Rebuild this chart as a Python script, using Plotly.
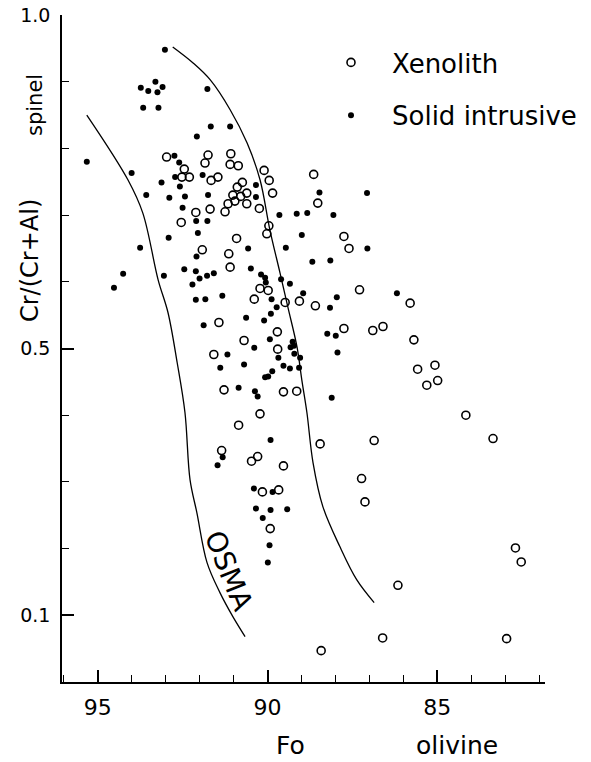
import plotly.graph_objects as go
import numpy as np

# Solid intrusive (filled dots): Fo (olivine), Cr/(Cr+Al) (spinel)
solid_fo = [93.02, 93.73, 93.51, 93.30, 93.24, 93.09, 93.66, 93.21, 92.08, 95.32,
            94.00, 93.12, 92.74, 92.60, 92.72, 92.58, 93.57, 92.89, 92.43, 91.77,
            91.67, 91.10, 91.91, 91.75, 90.34, 90.34, 88.47, 87.07, 92.50, 92.10,
            91.77, 92.05, 92.91, 93.75, 92.09, 94.25, 94.52, 93.05, 92.45, 92.11,
            92.00, 91.78, 91.58, 92.21, 92.11, 91.83, 91.33, 91.88, 91.18, 91.39,
            89.65, 89.14, 88.83, 88.06, 88.99, 89.46, 90.57, 88.68, 88.15, 87.06,
            90.49, 90.19, 90.07, 90.05, 89.60, 89.34, 89.88, 89.73, 88.95, 87.96,
            88.16, 86.19, 89.90, 90.63, 90.10, 88.24, 87.99, 89.93, 90.39, 89.26,
            89.22, 89.32, 89.21, 89.04, 87.94, 90.69, 89.68, 89.53, 89.34, 89.07,
            89.86, 90.07, 89.98, 90.85, 90.37, 90.29, 88.11, 89.91, 91.32, 91.47,
            90.40, 89.85, 90.34, 89.91, 89.42, 90.14, 89.94, 89.99]
solid_cr = [0.948, 0.891, 0.886, 0.900, 0.884, 0.892, 0.861, 0.861, 0.818, 0.780,
            0.763, 0.749, 0.789, 0.779, 0.757, 0.743, 0.730, 0.726, 0.728, 0.889,
            0.833, 0.833, 0.760, 0.730, 0.745, 0.727, 0.734, 0.733, 0.711, 0.691,
            0.691, 0.673, 0.666, 0.651, 0.638, 0.612, 0.591, 0.609, 0.619, 0.616,
            0.605, 0.609, 0.613, 0.596, 0.573, 0.574, 0.579, 0.535, 0.491, 0.471,
            0.700, 0.702, 0.703, 0.700, 0.670, 0.651, 0.650, 0.630, 0.632, 0.650,
            0.620, 0.611, 0.606, 0.599, 0.604, 0.597, 0.574, 0.562, 0.583, 0.577,
            0.561, 0.583, 0.552, 0.546, 0.542, 0.522, 0.519, 0.514, 0.501, 0.510,
            0.504, 0.502, 0.492, 0.486, 0.494, 0.476, 0.486, 0.474, 0.470, 0.471,
            0.466, 0.457, 0.458, 0.441, 0.436, 0.428, 0.426, 0.363, 0.337, 0.325,
            0.290, 0.285, 0.260, 0.258, 0.259, 0.246, 0.205, 0.179]

# Xenolith (open circles)
xeno_fo = [92.97, 92.45, 92.52, 92.30, 91.75, 91.84, 91.66, 91.46, 91.08, 91.10,
           90.86, 90.74, 90.89, 90.61, 91.02, 90.79, 90.10, 89.95, 89.85, 88.64,
           92.11, 91.69, 92.54, 91.25, 91.16, 90.96, 90.61, 90.24, 90.91, 91.92,
           91.14, 91.10, 91.43, 91.58, 89.96, 90.02, 88.52, 87.75, 87.60, 90.22,
           89.98, 90.39, 89.48, 89.06, 88.59, 87.29, 87.75, 86.90, 86.60, 90.69,
           89.71, 89.70, 85.80, 85.69, 85.58, 85.07, 85.31, 84.99, 84.16, 91.28,
           90.85, 91.35, 89.53, 89.14, 90.22, 88.45, 86.86, 90.29, 90.47, 89.53,
           87.23, 87.13, 90.15, 89.67, 89.92, 83.36, 82.70, 82.53, 86.16, 86.61,
           82.96, 88.42]
xeno_cr = [0.787, 0.769, 0.757, 0.757, 0.790, 0.778, 0.752, 0.757, 0.792, 0.776,
           0.774, 0.749, 0.742, 0.733, 0.730, 0.728, 0.767, 0.752, 0.733, 0.761,
           0.704, 0.709, 0.689, 0.705, 0.717, 0.721, 0.717, 0.710, 0.665, 0.648,
           0.642, 0.622, 0.539, 0.491, 0.684, 0.672, 0.718, 0.668, 0.650, 0.590,
           0.587, 0.574, 0.569, 0.571, 0.564, 0.588, 0.530, 0.527, 0.533, 0.512,
           0.525, 0.499, 0.568, 0.513, 0.469, 0.475, 0.445, 0.452, 0.400, 0.438,
           0.385, 0.347, 0.435, 0.436, 0.402, 0.357, 0.362, 0.338, 0.331, 0.324,
           0.305, 0.270, 0.285, 0.288, 0.230, 0.365, 0.201, 0.180, 0.145, 0.066,
           0.065, 0.047]

# OSMA boundary curves
left_fo = [95.32, 94.11, 93.67, 93.22, 92.93, 92.66, 92.43, 92.28, 92.08, 91.78,
           91.40, 91.02, 90.66]
left_cr = [0.850, 0.753, 0.703, 0.603, 0.554, 0.479, 0.404, 0.303, 0.254, 0.179,
           0.134, 0.098, 0.068]
right_fo = [92.79, 92.19, 91.69, 91.10, 90.60, 90.22, 89.93, 89.63, 89.40, 89.13,
            88.99, 88.84, 88.66, 88.37, 87.87, 87.37, 86.86]
right_cr = [0.952, 0.928, 0.903, 0.858, 0.808, 0.753, 0.678, 0.613, 0.562, 0.502,
            0.453, 0.404, 0.329, 0.263, 0.203, 0.153, 0.119]

x_ticks = [95, 90, 85]
y_ticks = [0.1, 0.5, 1.0]
y_ticktext = ["0.1", "0.5", "1.0"]

FONT = "DejaVu Sans"
# the page body adds an 8px offset; margins compensate for it
L, T = 54, 7
PW, PH = 483, 667
R, B = 591 - L - PW, 762 - T - PH
SX0, SY0 = 62, 682   # plot-area left / bottom as seen on screen


def px(sx):
    return (sx - SX0) / PW


def py(sy):
    return (SY0 - sy) / PH


fig = go.Figure()
for xs, ys in [(left_fo, left_cr), (right_fo, right_cr)]:
    fig.add_trace(go.Scatter(x=xs, y=ys, mode="lines", showlegend=False,
                             line=dict(color="black", width=1.3, shape="spline"),
                             hoverinfo="skip"))

fig.add_trace(go.Scatter(x=xeno_fo, y=xeno_cr, mode="markers", name="Xenolith",
                         legendgroup="a",
                         marker=dict(symbol="circle-open", size=8, color="black",
                                     line=dict(width=1.6, color="black"))))
fig.add_trace(go.Scatter(x=solid_fo, y=solid_cr, mode="markers", name="Solid intrusive",
                         legendgroup="b",
                         marker=dict(symbol="circle", size=6, color="black")))

fig.add_annotation(x=91.15, y=0.167, text="OSMA", showarrow=False, textangle=68,
                   xanchor="center", yanchor="middle",
                   font=dict(family=FONT, size=28, color="black"))
fig.add_annotation(x=px(290), y=py(745), xref="paper", yref="paper",
                   xanchor="center", yanchor="middle",
                   text="Fo", showarrow=False, font=dict(family=FONT, size=25, color="black"))
fig.add_annotation(x=px(457), y=py(745), xref="paper", yref="paper",
                   xanchor="center", yanchor="middle",
                   text="olivine", showarrow=False, font=dict(family=FONT, size=25, color="black"))
fig.add_annotation(x=px(30), y=py(261), xref="paper", yref="paper",
                   xanchor="center", yanchor="middle",
                   text="Cr/(Cr+Al)", showarrow=False, textangle=-90,
                   font=dict(family=FONT, size=24, color="black"))
fig.add_annotation(x=px(35), y=py(105), xref="paper", yref="paper",
                   xanchor="center", yanchor="middle",
                   text="spinel", showarrow=False, textangle=-90,
                   font=dict(family=FONT, size=21, color="black"))

fig.update_layout(
    width=591, height=762,
    margin=dict(l=L, r=R, t=T, b=B, autoexpand=False),
    paper_bgcolor="white", plot_bgcolor="white",
    font=dict(family=FONT, color="black"),
    legend=dict(x=px(310), y=py(39), xanchor="left", yanchor="top",
                font=dict(family=FONT, size=26, color="black"),
                traceorder="grouped", tracegroupgap=16, itemwidth=72,
                bgcolor="rgba(0,0,0,0)"),
)
fig.update_xaxes(range=[96.05, 81.83], showgrid=False, zeroline=False, automargin=False,
                 showline=True, linecolor="black", linewidth=1.6,
                 ticks="inside", ticklen=12, tickwidth=1.5, tickcolor="black",
                 tickmode="array", tickvals=x_ticks, ticklabelstandoff=5,
                 ticklabeloverflow="allow",
                 tickfont=dict(family=FONT, size=22, color="black"),
                 minor=dict(tickmode="array", tickvals=list(range(82, 97)),
                            ticks="inside", ticklen=7, tickwidth=1.3, tickcolor="black"))
fig.update_yaxes(range=[0, 1.0], showgrid=False, zeroline=False, automargin=False,
                 showline=True, linecolor="black", linewidth=1.6,
                 ticks="inside", ticklen=12, tickwidth=1.5, tickcolor="black",
                 tickmode="array", tickvals=y_ticks, ticktext=y_ticktext,
                 ticklabelstandoff=6, ticklabeloverflow="allow",
                 tickfont=dict(family=FONT, size=19, color="black"),
                 minor=dict(tickmode="array",
                            tickvals=[round(v, 1) for v in np.arange(0.1, 1.01, 0.1)],
                            ticks="inside", ticklen=7, tickwidth=1.3, tickcolor="black"))

fig.write_html("out.html")
